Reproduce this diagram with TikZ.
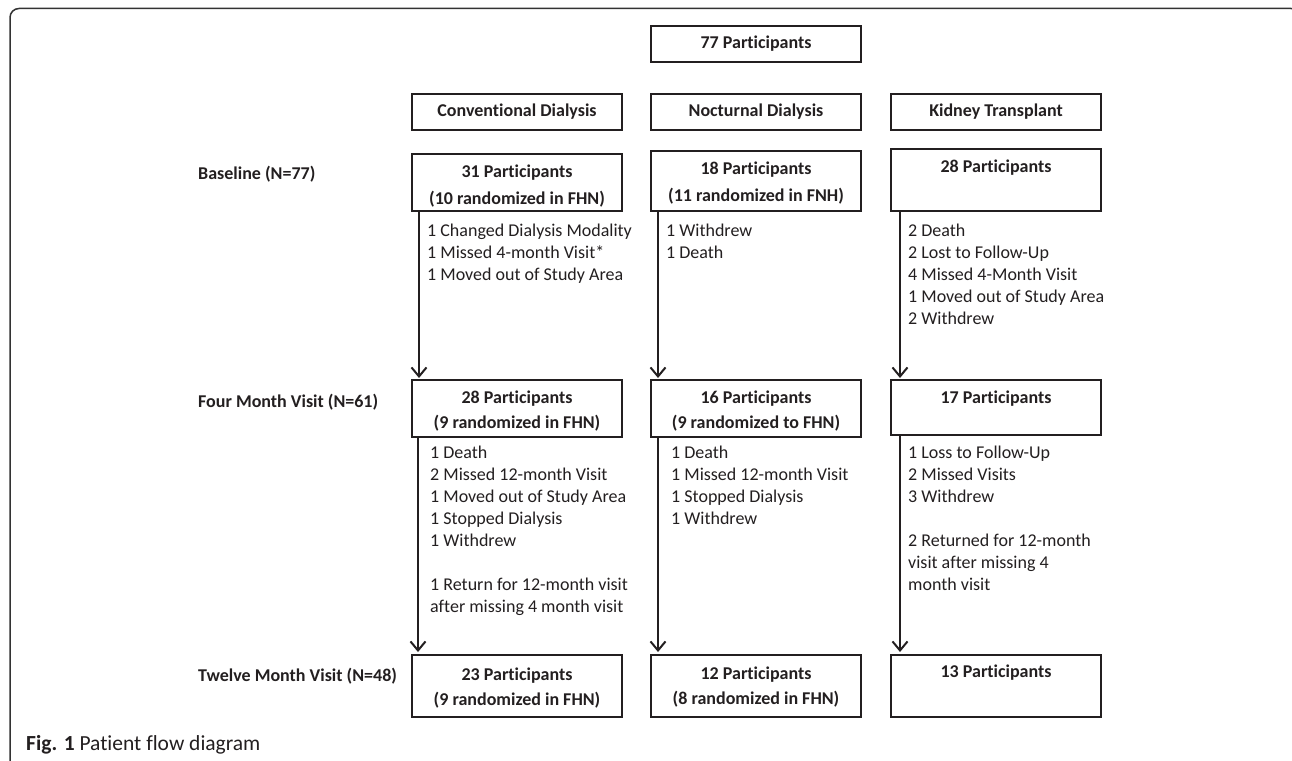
\documentclass[tikz,border=0pt]{standalone}
\usepackage{fontspec}
\setmainfont{Carlito}[Ligatures=NoCommon]
\usetikzlibrary{arrows.meta}
\definecolor{ink}{HTML}{231F20}
\definecolor{frame}{HTML}{333333}
\begin{document}
\begin{tikzpicture}[x=1pt,y=-1pt,
  box/.style={draw=ink, line width=1.8pt, minimum width=210pt, anchor=north west, inner sep=0pt, outer sep=0pt},
  bt/.style={font=\fontsize{18}{25}\selectfont\bfseries, text=ink, align=center, inner sep=0pt, anchor=center},
  rowlab/.style={font=\fontsize{18}{22}\selectfont\bfseries, text=ink, inner sep=0pt, anchor=base west},
  lst/.style={font=\fontsize{18}{22}\selectfont, text=ink, align=left, inner sep=0pt, anchor=north west},
  arr/.style={draw=ink, line width=2pt, -{Straight Barb[length=9pt,width=15pt]}}
]
\useasboundingbox (0,0) rectangle (1292,760);
\fill[white] (0,0) rectangle (1292,760);
\begin{scope}
\clip (0,0) rectangle (1292,760);
\draw[frame, line width=1.5pt, rounded corners=9pt] (10,8.5) rectangle (1300,775);
\end{scope}

% top and header boxes
\node[box, minimum height=36pt] (top) at (651,26) {};
\node[bt] (topt) at (756,44) {77 Participants};
\node[box, minimum height=36pt] (hc) at (412,94) {};
\node[bt] (hct) at (517,112) {Conventional Dialysis};
\node[box, minimum height=36pt] (hn) at (651,94) {};
\node[bt] (hnt) at (756,112) {Nocturnal Dialysis};
\node[box, minimum height=36pt] (hk) at (891,94) {};
\node[bt] (hkt) at (996,112) {Kidney Transplant};

% row labels
\node[rowlab] (lb) at (198,179) {Baseline (N=77)};
\node[rowlab] (l4) at (198,407) {Four Month Visit (N=61)};
\node[rowlab] (l12) at (198,681) {Twelve Month Visit (N=48)};

% baseline row
\node[box, minimum height=57pt] (cb) at (412,154) {};
\node[bt] (cbt) at (517,186) {31 Participants\\[2pt](10 randomized in FHN)};
\node[box, minimum height=60pt] (nb) at (651,151) {};
\node[bt] (nbt) at (756,183) {18 Participants\\[2pt](11 randomized in FNH)};
\node[box, minimum height=62pt] (kb) at (891,149) {};
\node[bt] (kbt) at (996,168) {28 Participants};

% four month row
\node[box, minimum height=57pt] (c4) at (412,380) {};
\node[bt] (c4t) at (517,411) {28 Participants\\(9 randomized in FHN)};
\node[box, minimum height=57pt] (n4) at (651,380) {};
\node[bt] (n4t) at (756,411) {16 Participants\\(9 randomized to FHN)};
\node[box, minimum height=55pt] (k4) at (891,380) {};
\node[bt] (k4t) at (996,399) {17 Participants};

% twelve month row
\node[box, minimum height=62pt] (c12) at (412,655) {};
\node[bt] (c12t) at (517,688) {23 Participants\\(9 randomized in FHN)};
\node[box, minimum height=62pt] (n12) at (651,655) {};
\node[bt] (n12t) at (756,687) {12 Participants\\(8 randomized in FHN)};
\node[box, minimum height=62pt] (k12) at (891,655) {};
\node[bt] (k12t) at (996,673) {13 Participants};

% arrows
\draw[arr] ([xshift=7pt]cb.south west) -- ([xshift=7pt,yshift=2pt]c4.north west);
\draw[arr] ([xshift=7pt]nb.south west) -- ([xshift=7pt,yshift=2pt]n4.north west);
\draw[arr] ([xshift=9pt]kb.south west) -- ([xshift=9pt,yshift=2pt]k4.north west);
\draw[arr] ([xshift=6pt]c4.south west) -- ([xshift=6pt,yshift=3pt]c12.north west);
\draw[arr] ([xshift=7pt]n4.south west) -- ([xshift=7pt,yshift=3pt]n12.north west);
\draw[arr] ([xshift=9pt]k4.south west) -- ([xshift=9pt,yshift=3pt]k12.north west);

% exclusion lists
\node[lst] (cl1) at (427,224) {1 Changed Dialysis Modality\\1 Missed 4-month Visit*\\1 Moved out of Study Area};
\node[lst] (nl1) at (666,224) {1 Withdrew\\1 Death};
\node[lst] (kl1) at (908,224) {2 Death\\2 Lost to Follow-Up\\4 Missed 4-Month Visit\\1 Moved out of Study Area\\2 Withdrew};
\node[lst] (cl2) at (430,446) {1 Death\\2 Missed 12-month Visit\\1 Moved out of Study Area\\1 Stopped Dialysis\\1 Withdrew\\[22pt]1 Return for 12-month visit\\after missing 4 month visit};
\node[lst] (nl2) at (671,446) {1 Death\\1 Missed 12-month Visit\\1 Stopped Dialysis\\1 Withdrew};
\node[lst] (kl2) at (908,446) {1 Loss to Follow-Up\\2 Missed Visits\\3 Withdrew\\[22pt]2 Returned for 12-month\\visit after missing 4\\month visit};

% caption
\node[font=\fontsize{21.5}{24}\selectfont, text=ink, inner sep=0pt, anchor=base west] (cap) at (26,750) {\textbf{Fig. 1} Patient flow diagram};
\end{tikzpicture}
\end{document}
